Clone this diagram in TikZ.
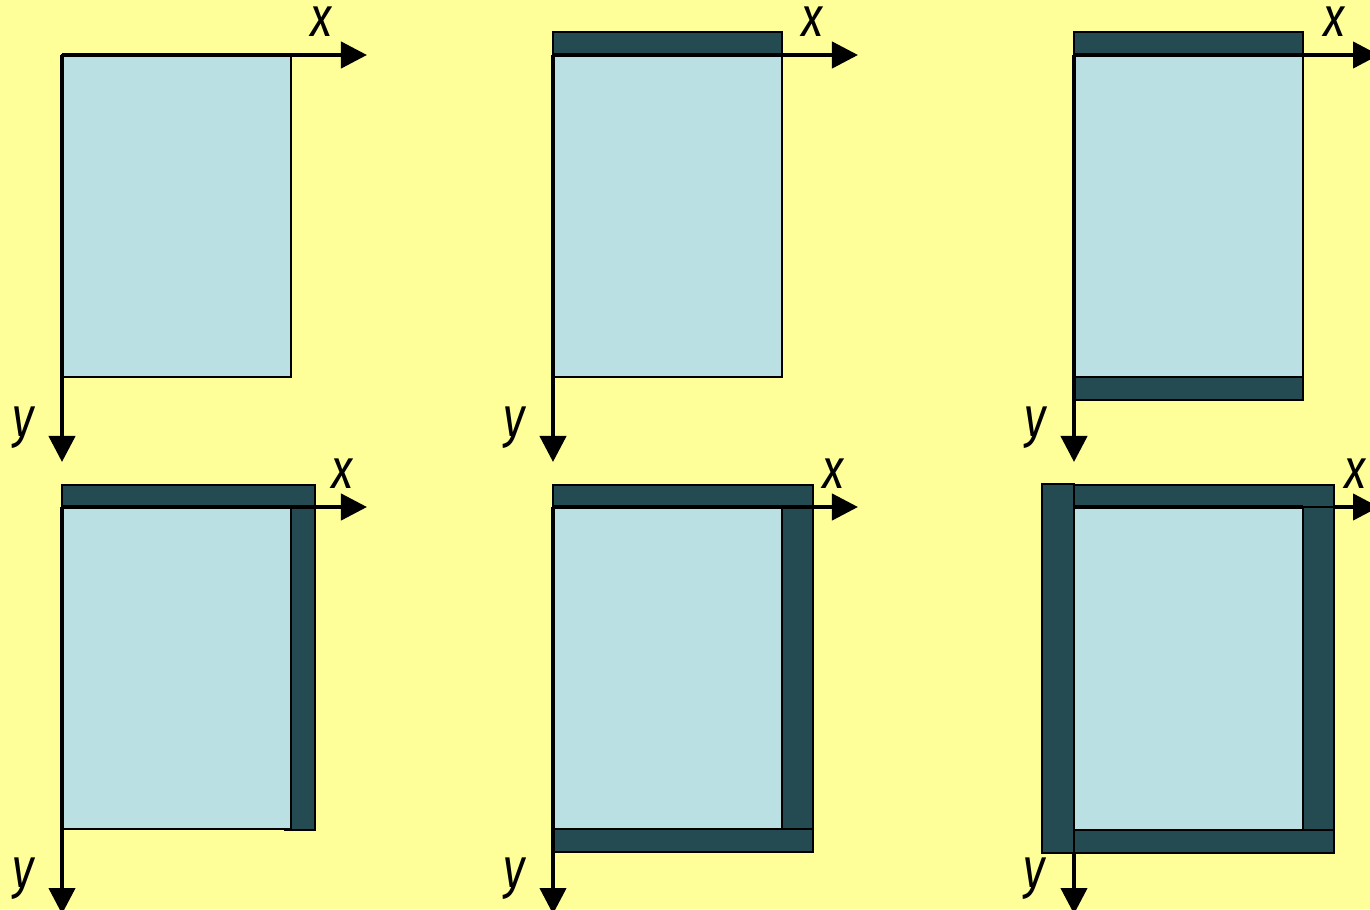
\documentclass[tikz,border=0pt]{standalone}
\usepackage{fontspec}
\newfontfamily\lblfont{Fira Sans}[FakeStretch=0.8]
\usetikzlibrary{arrows.meta}
\definecolor{bg}{HTML}{FFFF99}
\definecolor{paper}{HTML}{BBE0E3}
\definecolor{band}{HTML}{234B51}
\tikzset{
  axis/.style={line width=1.2pt,-{Triangle[length=0.26cm,width=0.26cm]}},
  sheet/.style={fill=paper,draw=black,line width=0.75pt},
  bandbox/.style={fill=band,draw=black,line width=0.75pt},
  lbl/.style={font=\lblfont\itshape\fontsize{16}{16}\selectfont,inner sep=0pt}
}
\begin{document}
\begin{tikzpicture}[x=0.01cm,y=-0.01cm]
\fill[bg] (0,0) rectangle (1370,909);
\useasboundingbox (0,0) rectangle (1370,909);
% ---- panel 1
\draw[sheet] (62,55) rectangle (291,377);
\coordinate (o1) at (62,55); \coordinate (x1) at (367,55); \coordinate (y1) at (62,462);
\draw[axis] (o1) -- (x1); \draw[axis] (o1) -- (y1);
\node[lbl,anchor=base] (lx1) at (321,37) {x};
\node[lbl,anchor=base] (ly1) at (23,436) {y};
% ---- panel 2
\draw[bandbox] (553,32) rectangle (782,55);
\draw[sheet] (553,55) rectangle (782,377);
\coordinate (o2) at (553,55); \coordinate (x2) at (858,55); \coordinate (y2) at (553,462);
\draw[axis] (o2) -- (x2); \draw[axis] (o2) -- (y2);
\node[lbl,anchor=base] (lx2) at (812,37) {x};
\node[lbl,anchor=base] (ly2) at (514,436) {y};
% ---- panel 3
\draw[bandbox] (1074,32) rectangle (1303,55);
\draw[bandbox] (1074,377) rectangle (1303,400);
\draw[sheet] (1074,55) rectangle (1303,377);
\coordinate (o3) at (1074,55); \coordinate (x3) at (1379,55); \coordinate (y3) at (1074,462);
\draw[axis] (o3) -- (x3); \draw[axis] (o3) -- (y3);
\node[lbl,anchor=base] (lx3) at (1334,37) {x};
\node[lbl,anchor=base] (ly3) at (1035,436) {y};
% ---- panel 4
\draw[bandbox] (285,485) rectangle (315,830);
\draw[sheet] (62,507) rectangle (291,829);
\draw[bandbox] (62,485) rectangle (315,507);
\coordinate (o4) at (62,507); \coordinate (x4) at (367,507); \coordinate (y4) at (62,914);
\draw[axis] (o4) -- (x4); \draw[axis] (o4) -- (y4);
\node[lbl,anchor=base] (lx4) at (342,488) {x};
\node[lbl,anchor=base] (ly4) at (23,887) {y};
% ---- panel 5
\draw[bandbox] (782,485) rectangle (813,830);
\draw[sheet] (553,507) rectangle (782,829);
\draw[bandbox] (553,485) rectangle (813,507);
\draw[bandbox] (553,829) rectangle (813,852);
\coordinate (o5) at (553,507); \coordinate (x5) at (858,507); \coordinate (y5) at (553,914);
\draw[axis] (o5) -- (x5); \draw[axis] (o5) -- (y5);
\node[lbl,anchor=base] (lx5) at (833,488) {x};
\node[lbl,anchor=base] (ly5) at (514,887) {y};
% ---- panel 6
\coordinate (o6) at (1074,507); \coordinate (x6) at (1379,507); \coordinate (y6) at (1074,914);
\draw[axis] (o6) -- (x6); \draw[axis] (o6) -- (y6);
\draw[bandbox] (1303,485) rectangle (1334,830);
\draw[sheet] (1074,507) rectangle (1303,830);
\draw[bandbox] (1074,485) rectangle (1334,507);
\draw[bandbox] (1074,830) rectangle (1334,853);
\draw[bandbox] (1042,484) rectangle (1074,853);
\draw[line width=1.2pt] (1074,507) -- (1303,507);
\node[lbl,anchor=base] (lx6) at (1355,488) {x};
\node[lbl,anchor=base] (ly6) at (1034,887) {y};
\end{tikzpicture}
\end{document}
